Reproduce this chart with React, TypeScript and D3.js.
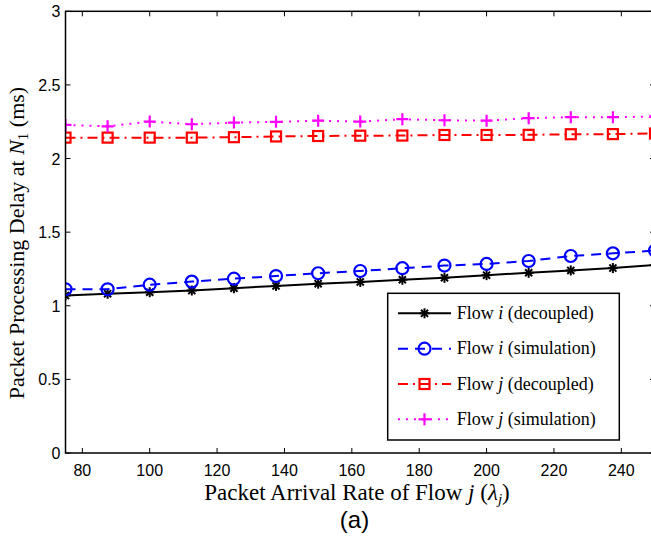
import React from "react";
import * as d3 from "d3";

const xValues = [75, 87.5, 100, 112.5, 125, 137.5, 150, 162.5, 175, 187.5, 200, 212.5, 225, 237.5, 250];
const flowIDecoupled = [1.069, 1.082, 1.092, 1.103, 1.119, 1.135, 1.15, 1.162, 1.177, 1.19, 1.208, 1.224, 1.24, 1.256, 1.277];
const flowISimulation = [1.112, 1.112, 1.143, 1.164, 1.184, 1.202, 1.221, 1.236, 1.255, 1.273, 1.284, 1.304, 1.338, 1.356, 1.375];
const flowJDecoupled = [2.142, 2.142, 2.142, 2.142, 2.145, 2.15, 2.153, 2.155, 2.156, 2.16, 2.16, 2.161, 2.165, 2.166, 2.17];
const flowJSimulation = [2.228, 2.219, 2.251, 2.233, 2.244, 2.249, 2.257, 2.251, 2.267, 2.26, 2.257, 2.274, 2.281, 2.281, 2.285];
const xTicks = [80, 100, 120, 140, 160, 180, 200, 220, 240];
const yTicks = [0, 0.5, 1, 1.5, 2, 2.5, 3];

const W = 651, H = 544;
const M = { left: 65.5, right: 655, top: 11.3, bottom: 453 };

const series = [
  { name: "i", kind: "(decoupled)", values: flowIDecoupled, color: "#000000", dash: "none", marker: "star" },
  { name: "i", kind: "(simulation)", values: flowISimulation, color: "#0000ff", dash: "10,7", marker: "circle" },
  { name: "j", kind: "(decoupled)", values: flowJDecoupled, color: "#ff0000", dash: "10,5,2,5", marker: "square" },
  { name: "j", kind: "(simulation)", values: flowJSimulation, color: "#ff00ff", dash: "2,6", marker: "plus" },
];

function Marker({ type, x, y, color }: { type: string; x: number; y: number; color: string }) {
  if (type === "circle") return <circle cx={x} cy={y} r={6} fill="none" stroke={color} strokeWidth={2.2} />;
  if (type === "square") return <rect x={x - 5} y={y - 5} width={10} height={10} fill="none" stroke={color} strokeWidth={2.2} />;
  if (type === "plus")
    return (
      <g stroke={color} strokeWidth={2.2}>
        <line x1={x - 6} x2={x + 6} y1={y} y2={y} />
        <line x1={x} x2={x} y1={y - 6} y2={y + 6} />
      </g>
    );
  const r = 5;
  return (
    <g stroke={color} strokeWidth={2}>
      {[0, 45, 90, 135].map((a) => {
        const rad = (a * Math.PI) / 180;
        return <line key={a} x1={x - r * Math.cos(rad)} y1={y - r * Math.sin(rad)} x2={x + r * Math.cos(rad)} y2={y + r * Math.sin(rad)} />;
      })}
    </g>
  );
}

export default function App() {
  const x = d3.scaleLinear().domain([75, 250]).range([M.left, M.right]);
  const y = d3.scaleLinear().domain([0, 3]).range([M.bottom, M.top]);
  const line = d3.line<number>().x((_, i) => x(xValues[i])).y((d) => y(d));
  const tickFont = "'Liberation Sans', Arial, sans-serif";
  const serif2 = "'Liberation Serif', serif";

  const legX = 387.7, legY = 293.3, legW = 231.6, legH = 146.7;
  const rowY = [313.3, 348.7, 384, 419.3];

  return (
    <svg width={W} height={H} style={{ position: "absolute", left: 0, top: 0, background: "#fff" }}>
      <defs>
        <clipPath id="plot">
          <rect x={M.left} y={M.top - 8} width={M.right - M.left + 10} height={M.bottom - M.top + 16} />
        </clipPath>
      </defs>
      {/* data */}
      <g clipPath="url(#plot)">
        {series.map((s, si) => (
          <g key={si}>
            <path d={line(s.values) || ""} fill="none" stroke={s.color} strokeWidth={2} strokeDasharray={s.dash} />
            {s.values.map((v, i) => (
              <Marker key={i} type={s.marker} x={x(xValues[i])} y={y(v)} color={s.color} />
            ))}
          </g>
        ))}
      </g>
      {/* axes box */}
      <rect x={M.left} y={M.top} width={M.right - M.left} height={M.bottom - M.top} fill="none" stroke="#000" strokeWidth={1.5} />
      {xTicks.map((t) => (
        <g key={t}>
          <line x1={x(t)} x2={x(t)} y1={M.bottom} y2={M.bottom - 5} stroke="#000" strokeWidth={1} />
          <line x1={x(t)} x2={x(t)} y1={M.top} y2={M.top + 5} stroke="#000" strokeWidth={1} />
          <text x={x(t)} y={476} textAnchor="middle" fontFamily={tickFont} fontSize={16}>{t}</text>
        </g>
      ))}
      {yTicks.map((t) => (
        <g key={t}>
          <line x1={M.left} x2={M.left + 5} y1={y(t)} y2={y(t)} stroke="#000" strokeWidth={1} />
          <line x1={M.right} x2={M.right - 5} y1={y(t)} y2={y(t)} stroke="#000" strokeWidth={1} />
          <text x={M.left - 5} y={y(t) + 6} textAnchor="end" fontFamily={tickFont} fontSize={16}>{t}</text>
        </g>
      ))}
      {/* legend */}
      <rect x={legX} y={legY} width={legW} height={legH} fill="#fff" stroke="#000" strokeWidth={1.5} />
      {series.map((s, i) => (
        <g key={i}>
          <line x1={398} x2={451} y1={rowY[i]} y2={rowY[i]} stroke={s.color} strokeWidth={2} strokeDasharray={s.dash} />
          <Marker type={s.marker} x={424.5} y={rowY[i]} color={s.color} />
          <text x={456.7} y={rowY[i] + 5.5} fontFamily={serif2} fontSize={18}>
            Flow <tspan fontStyle="italic">{s.name}</tspan> {s.kind}
          </text>
        </g>
      ))}
      {/* axis labels */}
      <text x={357} y={500} textAnchor="middle" fontFamily={serif2} fontSize={23}>
        Packet Arrival Rate of Flow <tspan fontStyle="italic">j</tspan> (<tspan fontStyle="italic">λ</tspan>
        <tspan fontStyle="italic" fontSize={15} dy={4}>j</tspan>
        <tspan dy={-4}>)</tspan>
      </text>
      <text transform={`translate(24,243) rotate(-90)`} textAnchor="middle" fontFamily={serif2} fontSize={22}>
        Packet Processing Delay at <tspan fontStyle="italic">N</tspan>
        <tspan fontSize={15} dy={4}>1</tspan>
        <tspan dy={-4}> (ms)</tspan>
      </text>
      <text x={354.5} y={528} textAnchor="middle" fontFamily={tickFont} fontSize={24}>(a)</text>
    </svg>
  );
}
